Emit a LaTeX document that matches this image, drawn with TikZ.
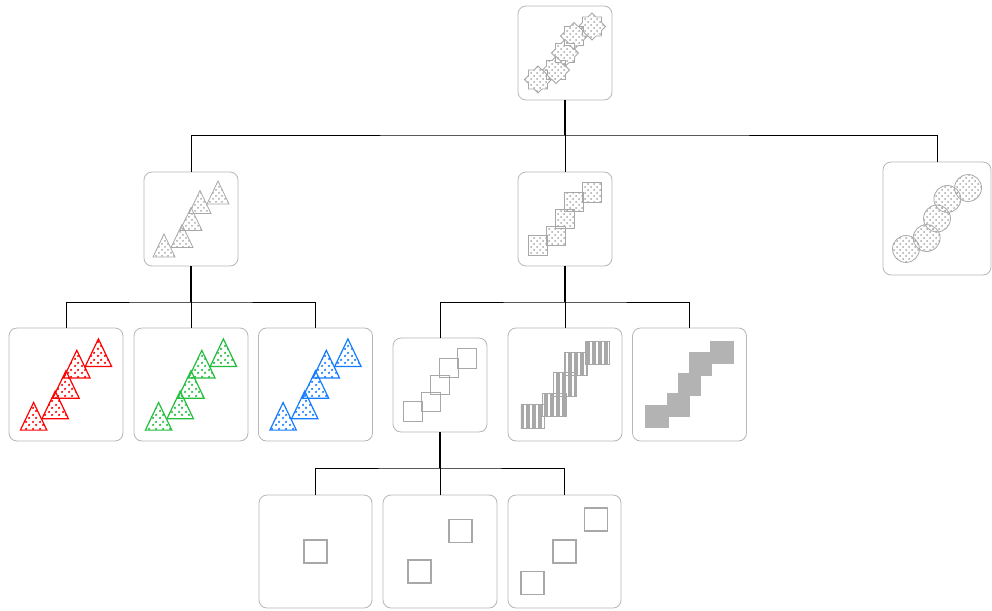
\documentclass[tikz,border=0pt]{standalone}
\usetikzlibrary{shapes.geometric,patterns.meta}
\definecolor{boxgray}{RGB}{182,182,182}
\definecolor{shapegray}{RGB}{168,168,168}
\definecolor{solidgray}{RGB}{179,179,179}
\definecolor{tred}{RGB}{255,0,0}
\definecolor{tgreen}{RGB}{34,190,60}
\definecolor{tblue}{RGB}{20,125,255}
\tikzset{
  box/.style={draw=boxgray, line width=0.8pt, rounded corners=8pt, inner sep=0pt, outer sep=0pt, fill=white},
  conn/.style={draw=black, line width=0.8pt},
  stem/.style={draw=black, line width=1.3pt},
  graydots/.style={draw=shapegray, line width=0.8pt, pattern={Dots[distance=6pt,radius=1pt]}, pattern color=shapegray,
    postaction={pattern={Dots[distance=6pt,radius=1pt,xshift=3pt,yshift=3pt]}, pattern color=shapegray}},
  coldots/.style={draw=#1, line width=1.2pt, line join=miter, pattern={Dots[distance=6.5pt,radius=1.3pt]}, pattern color=#1,
    postaction={pattern={Dots[distance=6.5pt,radius=1.3pt,xshift=3.25pt,yshift=3.25pt]}, pattern color=#1}},
  outl/.style={draw=shapegray, line width=1.1pt},
  stripes/.style={draw=shapegray, line width=0.8pt, pattern={Lines[angle=90,distance=6pt,line width=3.4pt]}, pattern color=shapegray},
  solid/.style={fill=solidgray},
}
\def\pat{-27/26.5,-9/17,0/0,9/-17,27/-26.5}
\begin{document}
\begin{tikzpicture}[x=1pt,y=-1pt]
\useasboundingbox (0,0) rectangle (992,610);
% boxes
\node[box, minimum width=94pt, minimum height=94pt] (root) at (565,53) {};
\node[box, minimum width=94pt, minimum height=94pt] (A) at (191,219) {};
\node[box, minimum width=94pt, minimum height=94pt] (B) at (565,219) {};
\node[box, minimum width=108pt, minimum height=113pt] (C) at (937,218.5) {};
\node[box, minimum width=114pt, minimum height=113pt] (a1) at (66,384.5) {};
\node[box, minimum width=114pt, minimum height=113pt] (a2) at (191,384.5) {};
\node[box, minimum width=114pt, minimum height=113pt] (a3) at (315.5,384.5) {};
\node[box, minimum width=94pt, minimum height=94pt] (b1) at (440,385) {};
\node[box, minimum width=114pt, minimum height=113pt] (b2) at (565,384.5) {};
\node[box, minimum width=114pt, minimum height=113pt] (b3) at (689.5,384.5) {};
\node[box, minimum width=113pt, minimum height=113pt] (c1) at (315.5,551.5) {};
\node[box, minimum width=114pt, minimum height=113pt] (c2) at (440,551.5) {};
\node[box, minimum width=113pt, minimum height=113pt] (c3) at (564.5,551.5) {};
% connectors
\coordinate (j0) at (565,135);
\coordinate (j1) at (191,302);
\coordinate (j2) at (565,302);
\coordinate (j3) at (440,468);
\draw[stem] (root.south) -- (j0);
\draw[conn] (A.north) |- (j0) -| (C.north);
\draw[conn] (j0) -- (B.north);
\draw[stem] (A.south) -- (j1);
\draw[conn] (a1.north) |- (j1) -| (a3.north);
\draw[conn] (j1) -- (a2.north);
\draw[stem] (B.south) -- (j2);
\draw[conn] (b1.north) |- (j2) -| (b3.north);
\draw[conn] (j2) -- (b2.north);
\draw[stem] (b1.south) -- (j3);
\draw[conn] (c1.north) |- (j3) -| (c3.north);
\draw[conn] (j3) -- (c2.north);
% root stars
\begin{scope}[shift={(root.center)}]
\foreach \dx/\dy in \pat {
  \node[star, star points=8, star point ratio=1.3, minimum size=27pt, inner sep=0pt, graydots] at (\dx,\dy) {};
}
\end{scope}
% A triangles
\begin{scope}[shift={(A.center)}]
\foreach \dx/\dy in \pat {
  \draw[graydots] (\dx-11,\dy+11.5) -- ++(22,0) -- ++(-11,-23) -- cycle;
}
\end{scope}
% B squares dotted
\begin{scope}[shift={(B.center)}]
\foreach \dx/\dy in \pat {
  \draw[graydots] (\dx-9.75,\dy-9.75) rectangle ++(19.5,19.5);
}
\end{scope}
% C circles
\begin{scope}[shift={(C.center)},scale=1.15]
\foreach \dx/\dy in \pat {
  \draw[graydots] (\dx,\dy) circle[radius=11.7];
}
\end{scope}
% colored triangles
\foreach \n/\c in {a1/tred,a2/tgreen,a3/tblue}{
\begin{scope}[shift={(\n.center)},scale=1.2]
\foreach \dx/\dy in \pat {
  \draw[coldots=\c] (\dx-11,\dy+11.5) -- ++(22,0) -- ++(-11,-23) -- cycle;
}
\end{scope}
}
% b1 outline squares
\begin{scope}[shift={(b1.center)}]
\foreach \dx/\dy in \pat {
  \draw[outl] (\dx-9.75,\dy-9.75) rectangle ++(19.5,19.5);
}
\end{scope}
% b2 striped
\begin{scope}[shift={(b2.center)},scale=1.2]
\foreach \dx/\dy in \pat {
  \draw[stripes] (\dx-9.75,\dy-9.75) rectangle ++(19.5,19.5);
}
\end{scope}
% b3 solid
\begin{scope}[shift={(b3.center)},scale=1.2]
\foreach \dx/\dy in \pat {
  \fill[solid] (\dx-9.75,\dy-9.75) rectangle ++(19.5,19.5);
}
\end{scope}
% level 3
\begin{scope}[shift={(c1.center)}]
\draw[outl] (-11.5,-11.5) rectangle ++(23,23);
\end{scope}
\begin{scope}[shift={(c2.center)}]
\foreach \dx/\dy in {-20.5/20,20.5/-20.5} {
  \draw[outl] (\dx-11.5,\dy-11.5) rectangle ++(23,23);
}
\end{scope}
\begin{scope}[shift={(c3.center)}]
\foreach \dx/\dy in {-32/31.5,0/0,31.5/-32} {
  \draw[outl] (\dx-11.5,\dy-11.5) rectangle ++(23,23);
}
\end{scope}
\end{tikzpicture}
\end{document}
